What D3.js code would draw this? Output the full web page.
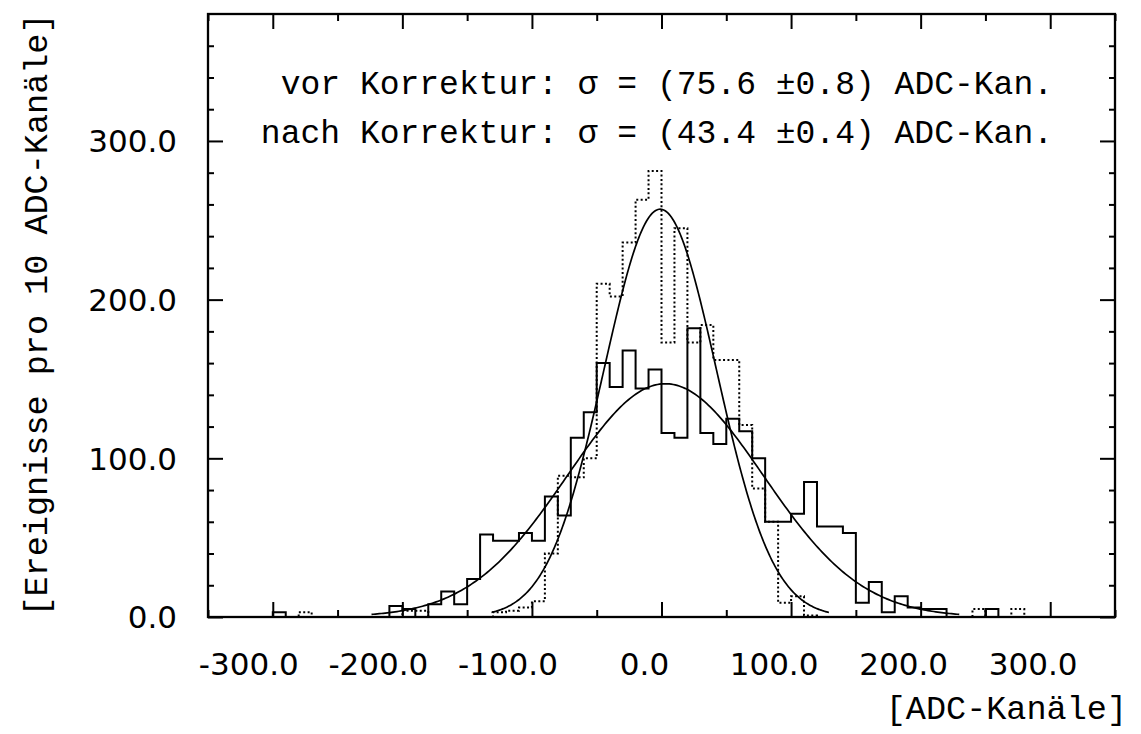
<!DOCTYPE html>
<html><head><meta charset="utf-8">
<script src="https://cdn.jsdelivr.net/npm/d3@7"></script>
<style>body{margin:0;background:#fff;overflow:hidden}</style>
</head><body>
<svg id="c" width="1141" height="734"></svg>
<script>
// ---- data ----
const binStart = [-300,-290,-280,-270,-260,-250,-240,-230,-220,-210,
  -200,-190,-180,-170,-160,-150,-140,-130,-120,-110,
  -100,-90,-80,-70,-60,-50,-40,-30,-20,-10,
  0,10,20,30,40,50,60,70,80,90,
  100,110,120,130,140,150,160,170,180,190,
  200,210,220,230,240,250,260,270,280,290];
const binWidth = 10;
// vor Korrektur (solid)
const countsVor = [3,0,0,0,0,0,0,0,0,7,
  5,0,8,16,8,24,52,48,48,53,
  48,76,64,113,129,160,145,168,144,156,
  116,113,182,116,109,125,117,100,60,60,
  65,85,57,57,53,9,22,3,13,6,
  5,5,0,0,0,5,0,0,0,0];
// nach Korrektur (dotted)
const countsNach = [0,0,3,0,0,0,0,0,0,0,
  4,4,0,0,0,0,0,3,4,6,
  10,40,89,88,100,210,202,236,263,281,
  173,245,173,184,162,162,121,81,60,9,
  13,1,0,0,0,0,0,0,0,0,
  0,0,0,0,5,0,0,5,0,0];
// Gaussian fit parameters: [amplitude, mean, sigma]
const fitVor = [147, 3, 75.6];
const fitNach = [257, -1, 43.4];
const xMajor = [-300,-200,-100,0,100,200,300];
const xMinor = [-350,-250,-150,-50,50,150,250,350];
const xTickLabels = ["-300.0","-200.0","-100.0","0.0","100.0","200.0","300.0"];
const yMajor = [0,100,200,300];
const yMinor = [20,40,60,80,120,140,160,180,220,240,260,280,320,340,360];
const yTickLabels = ["0.0","100.0","200.0","300.0"];
const line1 = "vor Korrektur: \u03c3 = (75.6 \u00b10.8) ADC-Kan.";
const line2 = "nach Korrektur: \u03c3 = (43.4 \u00b10.4) ADC-Kan.";
const xTitle = "[ADC-Kan\u00e4le]";
const yTitle = "[Ereignisse pro 10 ADC-Kan\u00e4le]";

// ---- layout ----
const L = 208, R = 1115, T = 14, B = 617;
const svg = d3.select("#c");
const x = d3.scaleLinear().domain([-350, 350]).range([L, R]);
const y = d3.scaleLinear().domain([0, 380]).range([B, T]);
const monoFont = "'Liberation Mono', 'DejaVu Sans Mono', monospace";
const tickFont = "'DejaVu Sans', sans-serif";

// histograms
function histPath(counts) {
  const pts = [[binStart[0], 0]];
  counts.forEach((c, i) => { pts.push([binStart[i], c]); pts.push([binStart[i] + binWidth, c]); });
  pts.push([binStart[binStart.length - 1] + binWidth, 0]);
  return d3.line().x(d => x(d[0])).y(d => y(d[1]))(pts);
}
svg.append("path").attr("d", histPath(countsNach)).attr("fill", "none")
  .attr("stroke", "#000").attr("stroke-width", 2).attr("stroke-dasharray", "2,2.4");
svg.append("path").attr("d", histPath(countsVor)).attr("fill", "none")
  .attr("stroke", "#000").attr("stroke-width", 2);

// fit curves
function fitPath(p) {
  const [a, m, s] = p;
  const xs = d3.range(0, 301).map(i => m - 3 * s + i * 6 * s / 300);
  return d3.line().x(v => x(v)).y(v => y(a * Math.exp(-((v - m) ** 2) / (2 * s * s))))(xs);
}
[fitVor, fitNach].forEach(p => svg.append("path").attr("d", fitPath(p))
  .attr("fill", "none").attr("stroke", "#000").attr("stroke-width", 1.7));

// axes ticks (inward)
function addAxis(gen, tr) {
  const g = svg.append("g").attr("transform", tr).call(gen);
  g.select(".domain").remove();
  g.selectAll("line").attr("stroke", "#000").attr("stroke-width", 2);
  g.selectAll("text").remove();
}
addAxis(d3.axisBottom(x).tickValues(xMajor).tickSize(-15), `translate(0,${B})`);
addAxis(d3.axisBottom(x).tickValues(xMinor).tickSize(-7), `translate(0,${B})`);
addAxis(d3.axisTop(x).tickValues(xMajor).tickSize(-15), `translate(0,${T})`);
addAxis(d3.axisTop(x).tickValues(xMinor).tickSize(-7), `translate(0,${T})`);
addAxis(d3.axisLeft(y).tickValues(yMajor).tickSize(-15), `translate(${L},0)`);
addAxis(d3.axisLeft(y).tickValues(yMinor).tickSize(-6), `translate(${L},0)`);
addAxis(d3.axisRight(y).tickValues(yMajor).tickSize(-15), `translate(${R},0)`);
addAxis(d3.axisRight(y).tickValues(yMinor).tickSize(-6), `translate(${R},0)`);

// frame
svg.append("rect").attr("x", L).attr("y", T).attr("width", R - L).attr("height", B - T)
  .attr("fill", "none").attr("stroke", "#000").attr("stroke-width", 2.3);

// tick labels
svg.selectAll(".xl").data(xMajor).enter().append("text")
  .attr("x", (d) => x(d) + (d < 0 ? -24 : -17)).attr("y", 675)
  .attr("text-anchor", "middle").attr("font-family", tickFont).attr("font-size", 31)
  .text((d, i) => xTickLabels[i]);
svg.selectAll(".yl").data(yMajor).enter().append("text")
  .attr("x", 177).attr("y", d => y(d) + 11.3)
  .attr("text-anchor", "end").attr("font-family", tickFont).attr("font-size", 31)
  .text((d, i) => yTickLabels[i]);

// annotation
svg.append("text").attr("x", 1053).attr("y", 94).attr("text-anchor", "end")
  .attr("font-family", monoFont).attr("font-size", 33).text(line1);
svg.append("text").attr("x", 1053).attr("y", 143).attr("text-anchor", "end")
  .attr("font-family", monoFont).attr("font-size", 33).text(line2);

// axis titles
svg.append("text").attr("x", 1127).attr("y", 719).attr("text-anchor", "end")
  .attr("font-family", monoFont).attr("font-size", 33.5).text(xTitle);
svg.append("text").attr("transform", "translate(47,315) rotate(-90)").attr("text-anchor", "middle")
  .attr("font-family", monoFont).attr("font-size", 33.5).text(yTitle);
</script>
</body></html>
